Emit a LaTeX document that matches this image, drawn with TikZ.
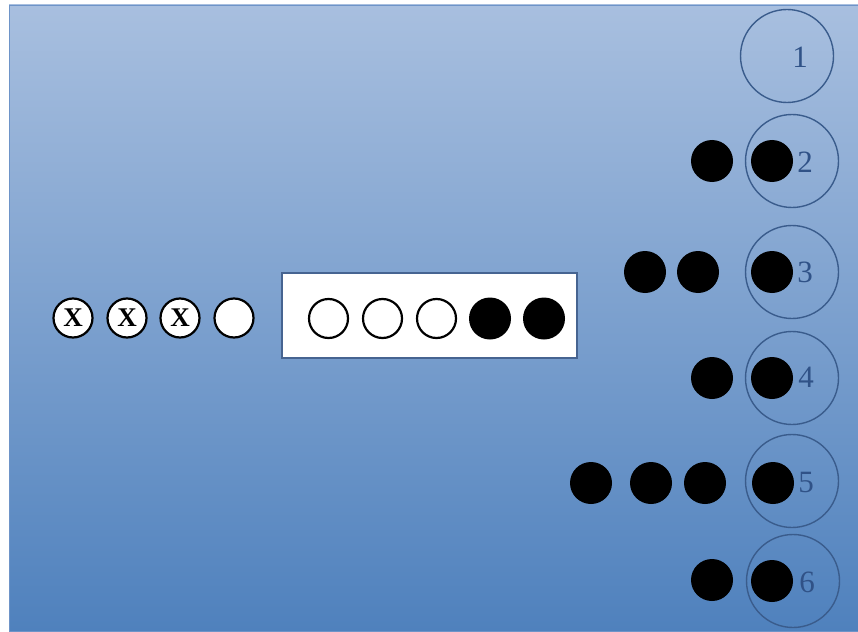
\documentclass[tikz,border=0pt]{standalone}
\usepackage{fontspec}
\setmainfont{Liberation Serif}
\definecolor{bgtop}{RGB}{168,191,223}
\definecolor{bgbot}{RGB}{79,129,189}
\definecolor{panelc}{RGB}{110,148,200}
\definecolor{ringc}{RGB}{58,92,140}
\definecolor{numc}{RGB}{48,82,135}
\definecolor{boxc}{RGB}{70,100,145}
\begin{document}
\begin{tikzpicture}[x=1pt,y=-1pt,
  ring/.style={circle, draw=ringc, line width=1.4pt, minimum size=93pt, inner sep=0pt},
  bdot/.style={circle, fill=black, minimum size=42pt, inner sep=0pt},
  wdot/.style={circle, draw=black, line width=2.2pt, fill=white, minimum size=39pt, inner sep=0pt},
  num/.style={text=numc, font=\fontsize{31}{31}\selectfont, inner sep=0pt},
  xmark/.style={font=\fontsize{27}{27}\selectfont\bfseries}]
\useasboundingbox (0,0) rectangle (858,631);
\shade[top color=bgtop, bottom color=bgbot, draw=panelc, line width=0.8pt] (9,5) rectangle (858,631);
% left circles
\node[wdot, xmark] (l1) at (73,318) {X};
\node[wdot, xmark] (l2) at (127,318) {X};
\node[wdot, xmark] (l3) at (180,318) {X};
\node[wdot] (l4) at (234,318) {};
% box
\node[draw=boxc, fill=white, line width=1.6pt, minimum width=295pt, minimum height=85pt, inner sep=0pt] (box) at (429.5,315.5) {};
\node[wdot] (b1) at (328.5,318.5) {};
\node[wdot] (b2) at (382.5,318.5) {};
\node[wdot] (b3) at (436.5,318.5) {};
\node[bdot] (b4) at (490,318.5) {};
\node[bdot] (b5) at (544,318.5) {};
% rings
\node[ring] (r1) at (787,56) {};
\node[ring] (r2) at (792,161) {};
\node[ring] (r3) at (792,272) {};
\node[ring] (r4) at (792,378) {};
\node[ring] (r5) at (792,481) {};
\node[ring] (r6) at (793,581) {};
% row 2
\node[bdot] (d21) at (712,161) {};
\node[bdot] (d22) at (772,161) {};
% row 3
\node[bdot] (d31) at (645,272) {};
\node[bdot] (d32) at (698,272) {};
\node[bdot] (d33) at (772,272) {};
% row 4
\node[bdot] (d41) at (712,378) {};
\node[bdot] (d42) at (772,378) {};
% row 5
\node[bdot] (d51) at (591,483) {};
\node[bdot] (d52) at (651,483) {};
\node[bdot] (d53) at (705,483) {};
\node[bdot] (d54) at (773,483) {};
% row 6
\node[bdot] (d61) at (712,580) {};
\node[bdot] (d62) at (772,581) {};
% numbers
\node[num] (n1) at (800,57) {1};
\node[num] (n2) at (805,162) {2};
\node[num] (n3) at (805,272) {3};
\node[num] (n4) at (806,377) {4};
\node[num] (n5) at (806,482) {5};
\node[num] (n6) at (807,582) {6};
\end{tikzpicture}
\end{document}
